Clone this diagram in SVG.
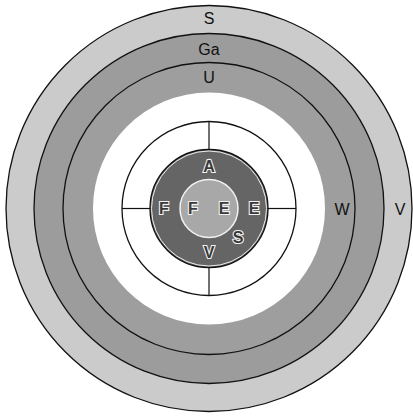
<svg xmlns="http://www.w3.org/2000/svg" width="413" height="416" viewBox="0 0 413 416">
<style>
.ring{stroke:#111;stroke-width:1.3}
.lbl{font-family:"Liberation Sans",Arial,sans-serif;font-size:16px;text-anchor:middle;fill:#111}
.in{font-family:"Liberation Sans",Arial,sans-serif;font-size:16px;text-anchor:middle;fill:#3a3a3a;stroke:#f2f2f2;stroke-width:2.2;paint-order:stroke;font-weight:bold}
.cross{stroke:#111;stroke-width:1.2}
</style>
<rect width="413" height="416" fill="#fff"/>
<g id="ring-S">
<circle class="ring" cx="209" cy="208.5" r="203" fill="#cbcbcb"/>
<text class="lbl" x="209" y="24">S</text>
<text class="lbl" x="400" y="215">V</text>
</g>
<g id="ring-Ga">
<circle class="ring" cx="209" cy="208.5" r="175" fill="#9c9c9c"/>
<text class="lbl" x="209" y="55">Ga</text>
</g>
<g id="ring-U">
<circle class="ring" cx="209" cy="208.5" r="146" fill="#9e9e9e"/>
<text class="lbl" x="209" y="83">U</text>
<text class="lbl" x="342" y="215">W</text>
</g>
<g id="white-zone">
<circle cx="209" cy="208.5" r="116" fill="#fff"/>
</g>
<g id="quarter-circle">
<circle class="ring" cx="209" cy="208.5" r="87" fill="#fff"/>
</g>
<g id="connectors">
<line class="cross" x1="209" y1="121" x2="209" y2="150"/>
<line class="cross" x1="209" y1="267" x2="209" y2="296"/>
<line class="cross" x1="122" y1="208.5" x2="151" y2="208.5"/>
<line class="cross" x1="267" y1="208.5" x2="296" y2="208.5"/>
</g>
<g id="dark-core">
<circle cx="209" cy="208.5" r="59" fill="#656565" stroke="#111" stroke-width="1.3"/>
<circle cx="209" cy="208.5" r="57.5" fill="none" stroke="#eee" stroke-width="1"/>
<text class="in" x="209" y="172">A</text>
<text class="in" x="164" y="214">F</text>
<text class="in" x="254" y="214">E</text>
<text class="in" x="238" y="243">S</text>
<text class="in" x="209" y="258">V</text>
</g>
<g id="inner-core">
<circle cx="209" cy="208.5" r="29" fill="#a8a8a8" stroke="#f2f2f2" stroke-width="1.5"/>
<text class="in" x="193" y="214">F</text>
<text class="in" x="224" y="214">E</text>
</g>
</svg>
